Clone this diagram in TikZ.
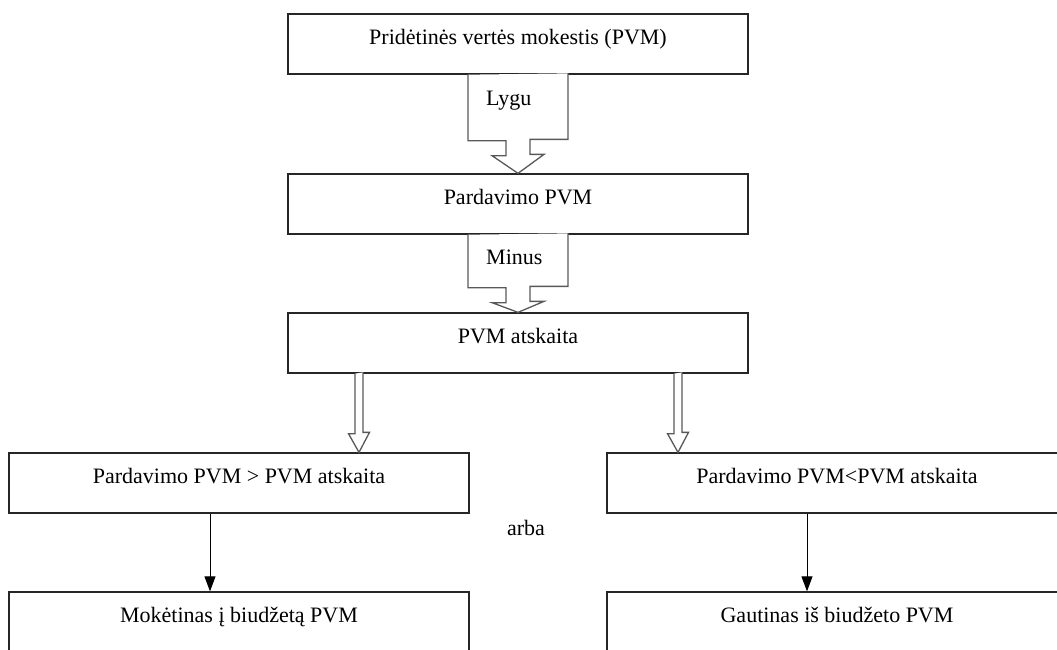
\documentclass[tikz,border=0pt]{standalone}
\usepackage{fontspec}
\setmainfont{Liberation Serif}
\newfontfamily\boxfont{Liberation Serif}
\usetikzlibrary{arrows.meta,positioning,calc}

\begin{document}
\begin{tikzpicture}[x=1pt,y=-1pt,
  box/.style={draw=black!85, line width=1.3pt, minimum width=460pt, inner ysep=0pt, text height=30pt, text depth=30pt, font=\boxfont\fontsize{22}{26}\selectfont},
  lbl/.style={font=\boxfont\fontsize{22}{26}\selectfont, inner sep=0pt},
  hollow/.style={draw=black!65, line width=1.3pt, fill=white},
  arrow/.style={-{Triangle[length=15pt,width=11pt]}, line width=1pt}
]
\clip (0,0) rectangle (1057,649);
% main column
\node[box] (PVM)  at (518,44)  {Pridėtinės vertės mokestis (PVM)};
\node[box] (Pard) at (518,204) {Pardavimo PVM};
\node[box] (Atsk) at (518,343) {PVM atskaita};
% two cases
\node[box] (Daug) at (239,483) {Pardavimo PVM > PVM atskaita};
\node[box] (Maz)  at (837,483) {Pardavimo PVM<PVM atskaita};
\node[lbl] (arba) at (526,528) {arba};
% results
\node[box] (Mok)  at (239,622) {Mokėtinas į biudžetą PVM};
\node[box] (Gaut) at (837,622) {Gautinas iš biudžeto PVM};

% block arrows
\draw[hollow] (PVM.south) ++(-50,0) -- ++(0,66) -- ++(38,0) -- ++(0,15) -- ++(-14,0)
  -- (Pard.north) -- ++(26,-19) -- ++(-14,0) -- ++(0,-15) -- ++(38,0) -- ++(0,-66);
\node[lbl, anchor=west] (lygu) at ($(PVM.south)+(-32,26)$) {Lygu};
\draw[hollow] (Pard.south) ++(-50,0) -- ++(0,53) -- ++(38,0) -- ++(0,15) -- ++(-14,0)
  -- (Atsk.north) -- ++(26,-11) -- ++(-14,0) -- ++(0,-15) -- ++(38,0) -- ++(0,-53);
\node[lbl, anchor=west] (minus) at ($(Pard.south)+(-32,23)$) {Minus};

% thin hollow arrows
\draw[hollow] ($(Atsk.south)+(-163,0)$) -- ++(0,60) -- ++(-6.5,0) -- ($(Daug.north)+(120,0)$)
  -- ++(10.5,-20) -- ++(-6.5,0) -- ++(0,-60);
\draw[hollow] ($(Atsk.south)+(156,0)$) -- ++(0,60) -- ++(-6.5,0) -- ($(Maz.north)+(-159,0)$)
  -- ++(10.5,-20) -- ++(-6.5,0) -- ++(0,-60);

% to results
\draw[arrow] ($(Daug.south)+(-29,0)$) -- ($(Mok.north)+(-29,0)$);
\draw[arrow] ($(Maz.south)+(-30,0)$) -- ($(Gaut.north)+(-30,0)$);
\end{tikzpicture}
\end{document}
